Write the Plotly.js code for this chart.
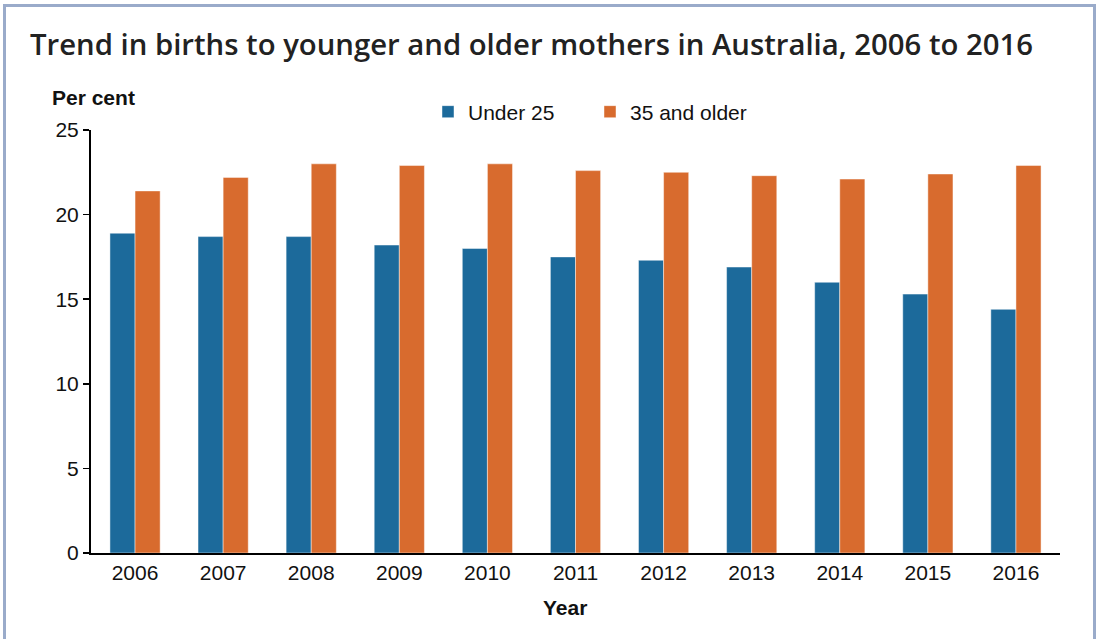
<!DOCTYPE html>
<html>
<head>
<meta charset="utf-8">
<script src="https://cdn.plot.ly/plotly-3.0.1.min.js"></script>
<style>
  html, body { margin: 0; padding: 0; background: #fff; overflow: hidden; }
  #wrap { position: relative; width: 1097px; height: 639px; }
  #chart { width: 1097px; height: 639px; }
  #frame { position: absolute; left: 3px; top: 4px; width: 1087px; height: 700px;
           border: 3px solid #9aabca; pointer-events: none; }
</style>
</head>
<body>
<div id="wrap">
  <div id="chart"></div>
  <div id="frame"></div>
</div>
<script>
const years = ['2006','2007','2008','2009','2010','2011','2012','2013','2014','2015','2016'];
const under25 = [18.9, 18.7, 18.7, 18.2, 18.0, 17.5, 17.3, 16.9, 16.0, 15.3, 14.4];
const older35 = [21.4, 22.2, 23.0, 22.9, 23.0, 22.6, 22.5, 22.3, 22.1, 22.4, 22.9];
const seriesNames = ['Under 25', '35 and older'];
const colors = ['#1c6a9b', '#d86b2e'];
const yTicks = [0, 5, 10, 15, 20, 25];

const font = 'Liberation Sans, Arial, sans-serif';
const L = 91, R = 37, T = 130, B = 86;
const PW = 1097 - L - R, PH = 639 - T - B;

const traces = [under25, older35].map((vals, i) => ({
  type: 'bar',
  name: seriesNames[i],
  x: years,
  y: vals,
  marker: { color: colors[i], line: { color: 'rgba(255,255,255,0.45)', width: 1 } },
  hoverinfo: 'x+y+name'
}));

const layout = {
  width: 1097,
  height: 639,
  paper_bgcolor: '#fff',
  plot_bgcolor: '#fff',
  margin: { l: L, r: R, t: T, b: B },
  barmode: 'group',
  bargap: 0.43,
  bargroupgap: 0,
  title: {
    text: 'Trend in births to younger and older mothers in Australia, 2006 to 2016',
    font: { family: 'Open Sans, sans-serif', size: 29.3, weight: 600, color: '#222' },
    x: 30 / 1097, xanchor: 'left', xref: 'container',
    y: 1 - 45 / 639, yanchor: 'middle', yref: 'container'
  },
  font: { family: font, size: 21, color: '#111' },
  xaxis: {
    type: 'category',
    range: [-0.5, 10.5],
    showline: true, linecolor: '#000', linewidth: 2,
    ticks: '', showgrid: false, zeroline: false,
    tickfont: { family: font, size: 21, color: '#111' }
  },
  yaxis: {
    range: [0, 25],
    tickvals: yTicks,
    showline: true, linecolor: '#000', linewidth: 2,
    ticks: 'outside', ticklen: 6, tickwidth: 1.5, tickcolor: '#000',
    showgrid: false, zeroline: false,
    tickfont: { family: font, size: 21, color: '#111' }
  },
  legend: {
    orientation: 'h',
    x: (428 - L) / PW, xanchor: 'left',
    y: (553 - 112) / PH, yanchor: 'middle',
    font: { family: font, size: 21, color: '#111' },
    entrywidth: 117, entrywidthmode: 'pixels',
    bgcolor: 'rgba(0,0,0,0)'
  },
  annotations: [{
    text: '<b>Per cent</b>',
    xref: 'paper', yref: 'paper',
    x: (50 - L) / PW, y: (553 - 97) / PH,
    xanchor: 'left', yanchor: 'middle',
    showarrow: false,
    font: { family: font, size: 21, color: '#111' }
  }, {
    text: '<b>Year</b>',
    xref: 'paper', yref: 'paper',
    x: (565 - L) / PW, y: (553 - 607) / PH,
    xanchor: 'center', yanchor: 'middle',
    showarrow: false,
    font: { family: font, size: 21, color: '#111' }
  }]
};

Plotly.newPlot('chart', traces, layout, { displayModeBar: false, staticPlot: true });
</script>
</body>
</html>
